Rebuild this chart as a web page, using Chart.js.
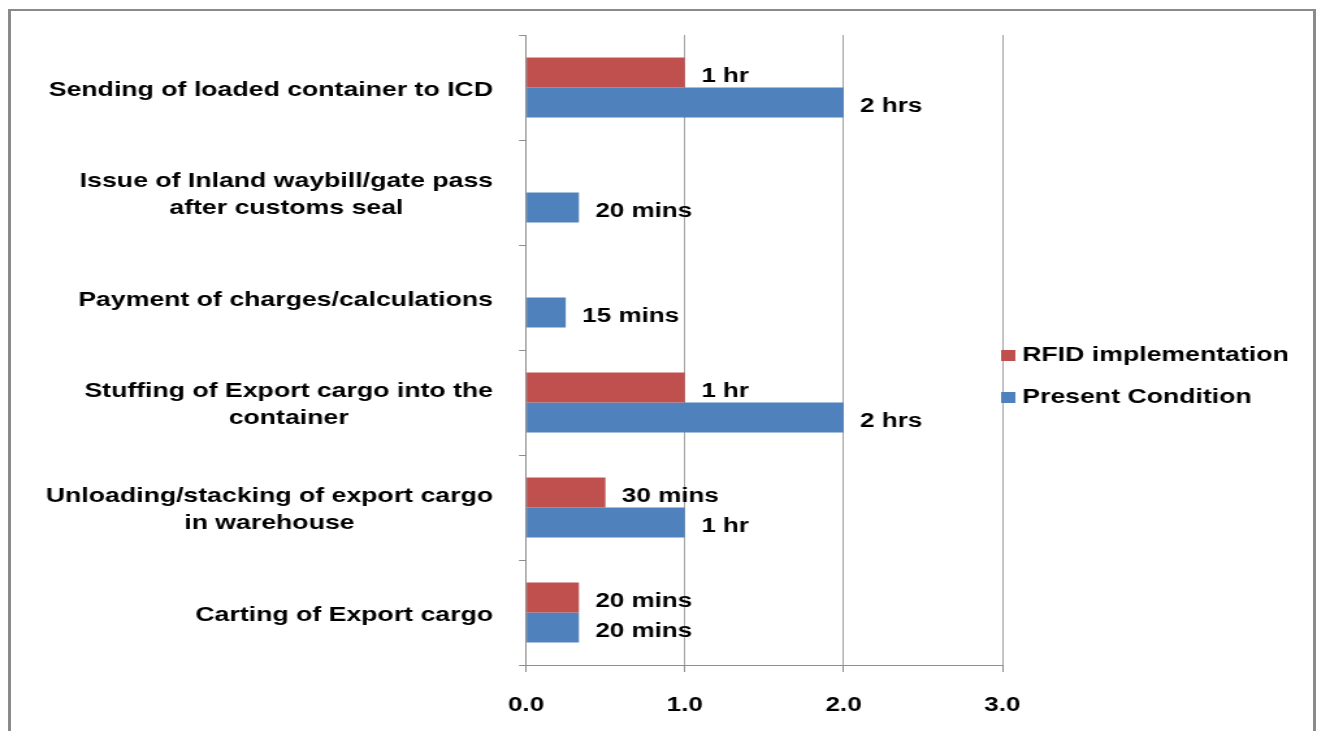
<!DOCTYPE html>
<html>
<head>
<meta charset="utf-8">
<title>Export process time: RFID vs present</title>
<script src="https://cdn.jsdelivr.net/npm/chart.js@4"></script>
<style>
  html, body { margin: 0; padding: 0; background: #fff; overflow: hidden; width: 1317px; height: 731px; }
  /* the chart is laid out on a narrower canvas and widened to the page */
  #stage { position: absolute; left: 0; top: 0; width: 1013px; height: 731px; transform: scaleX(1.3001); transform-origin: 0 0; }
  #frame { position: absolute; left: 8px; top: 9px; width: 1308px; height: 800px; box-sizing: border-box;
           border: 3px solid #8a8a8a; border-top-width: 2px; pointer-events: none; }
</style>
</head>
<body>
<div id="stage"><canvas id="chart" width="1013" height="731"></canvas></div>
<div id="frame"></div>
<script>
// Process steps, top to bottom (each entry holds the lines of its label)
const categories = [
  ['Sending of loaded container to ICD'],
  ['Issue of Inland waybill/gate pass', 'after customs seal'],
  ['Payment of charges/calculations'],
  ['Stuffing of Export cargo into the', 'container'],
  ['Unloading/stacking of export cargo', 'in warehouse'],
  ['Carting of Export cargo']
];
const seriesNames = ['RFID implementation', 'Present Condition'];
// Time taken per step, in hours
const rfidHours    = [1, null, null, 1, 0.5, 0.333];
const presentHours = [2, 0.333, 0.25, 2, 1, 0.333];
const xTickValues = [0, 1, 2, 3];
const xTickLabels = ['0.0', '1.0', '2.0', '3.0'];

const FONT = '"Liberation Sans", Arial, sans-serif';
const AXIS_GREY = '#8e8e8e';
const GRID_GREY = '#a3a3a3';
const RED = '#C0504D';
const BLUE = '#4F81BD';

// "20 mins", "1 hr", "2 hrs"
function fmtDuration(h) {
  const m = Math.round(h * 60);
  if (m < 60) return m + ' mins';
  const hr = Math.round(m / 60 * 100) / 100;
  return hr === 1 ? '1 hr' : hr + ' hrs';
}

// small square legend marker
function swatch(color) {
  const c = document.createElement('canvas');
  c.width = 11; c.height = 11;
  const g = c.getContext('2d');
  g.fillStyle = color;
  g.fillRect(0, 0, 11, 11);
  return c;
}
const swatches = [swatch(RED), swatch(BLUE)];

// Category labels: block right-aligned to the axis, lines centred in the block
const categoryLabels = {
  id: 'categoryLabels',
  afterDraw(chart) {
    const ys = chart.scales.y;
    const ctx = chart.ctx;
    ctx.save();
    ctx.font = 'bold 20.5px ' + FONT;
    ctx.fillStyle = '#000';
    ctx.textAlign = 'center';
    ctx.textBaseline = 'middle';
    const right = ys.right - 25.4;
    chart.data.labels.forEach((lines, i) => {
      const w = Math.max(...lines.map(l => ctx.measureText(l).width));
      const cx = right - w / 2;
      const cy = ys.getPixelForTick(i) + 2.5;
      lines.forEach((l, j) => ctx.fillText(l, cx, cy + (j - (lines.length - 1) / 2) * 27));
    });
    ctx.restore();
  }
};

// Duration text just past the end of each bar
const valueLabels = {
  id: 'valueLabels',
  afterDatasetsDraw(chart) {
    const ctx = chart.ctx;
    ctx.save();
    ctx.font = 'bold 20px ' + FONT;
    ctx.fillStyle = '#000';
    ctx.textAlign = 'left';
    ctx.textBaseline = 'middle';
    chart.data.datasets.forEach((ds, di) => {
      const meta = chart.getDatasetMeta(di);
      meta.data.forEach((bar, i) => {
        const v = ds.data[i];
        if (v == null) return;
        ctx.fillText(fmtDuration(v), bar.x + 12.7, bar.y + 4);
      });
    });
    ctx.restore();
  }
};

// Legend sits right against the plot edge, centred a little below mid-height
const legendPlacement = {
  id: 'legendPlacement',
  afterLayout(chart) {
    const lg = chart.legend;
    if (!lg) return;
    lg.left = chart.chartArea.right - 17;
    lg.right = lg.left + lg.width;
    lg.top = 0;
    lg.bottom = 752.5;
    lg.height = 752.5;
  }
};

new Chart(document.getElementById('chart'), {
  type: 'bar',
  data: {
    labels: categories,
    datasets: [
      { label: seriesNames[0], data: rfidHours, backgroundColor: RED,
        categoryPercentage: 0.5714, barPercentage: 1 },
      { label: seriesNames[1], data: presentHours, backgroundColor: BLUE,
        categoryPercentage: 0.5714, barPercentage: 1 }
    ]
  },
  options: {
    indexAxis: 'y',
    responsive: false,
    animation: false,
    devicePixelRatio: 1,
    layout: { padding: { top: 35, bottom: 16, left: 0, right: 0 } },
    scales: {
      x: {
        type: 'linear',
        position: 'bottom',
        min: 0,
        max: 3,
        ticks: {
          stepSize: 1,
          callback: v => xTickLabels[xTickValues.indexOf(v)],
          font: { family: FONT, size: 20, weight: 'bold' },
          color: '#000',
          padding: 21,
          maxRotation: 0
        },
        grid: { color: GRID_GREY, lineWidth: 1, drawTicks: true, tickLength: 7, tickColor: AXIS_GREY },
        border: { display: true, color: AXIS_GREY, width: 1 },
        afterFit(s) { s.height = 50; }
      },
      y: {
        type: 'category',
        position: 'left',
        offset: true,
        ticks: { display: false },
        grid: { offset: true, drawOnChartArea: false, drawTicks: true, tickLength: 5.4, color: AXIS_GREY },
        border: { display: true, color: AXIS_GREY, width: 1 },
        afterFit(s) { s.width = 404.6; }
      }
    },
    plugins: {
      tooltip: { enabled: false },
      legend: {
        position: 'right',
        maxWidth: 242,
        labels: {
          usePointStyle: true,
          boxWidth: 1,
          padding: 21,
          color: '#000',
          font: { family: FONT, size: 20.5, weight: 'bold' },
          generateLabels(chart) {
            const items = Chart.defaults.plugins.legend.labels.generateLabels(chart);
            items.forEach((it, i) => { it.pointStyle = swatches[i]; });
            return items;
          }
        }
      }
    }
  },
  plugins: [categoryLabels, valueLabels, legendPlacement]
});
</script>
</body>
</html>
